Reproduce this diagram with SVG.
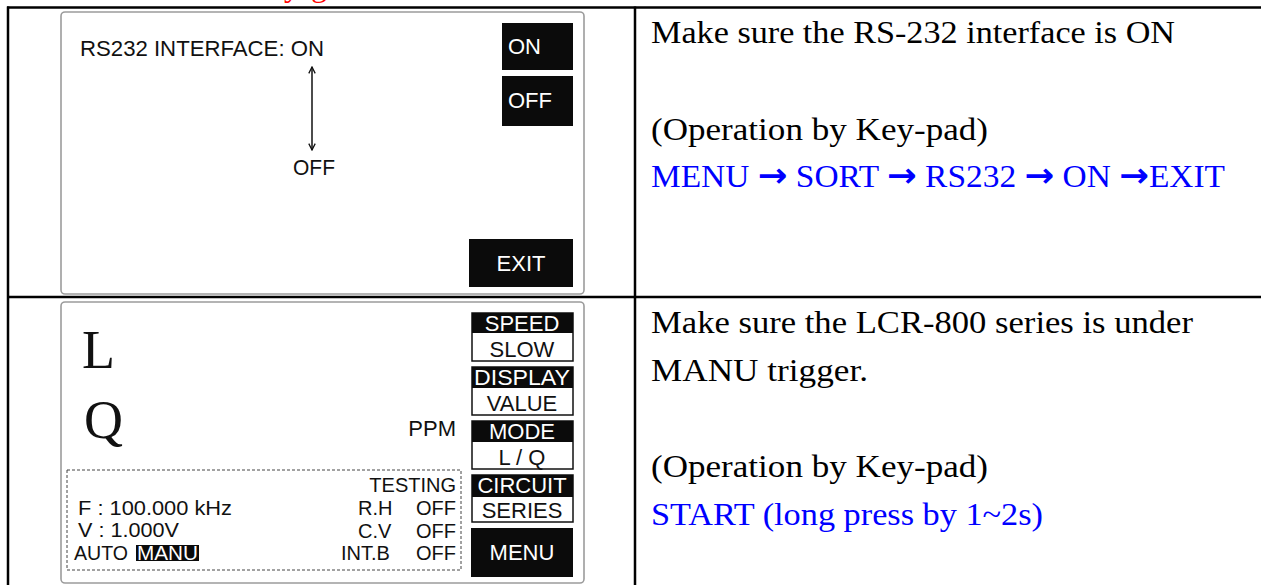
<svg xmlns="http://www.w3.org/2000/svg" width="1261" height="585" viewBox="0 0 1261 585">
<defs>
<style>
.grid{stroke:#000;stroke-width:2.5;fill:none}
.panel{fill:#fff;stroke:#9c9c9c;stroke-width:1.6}
.lcd{font-family:"Liberation Sans",Arial,sans-serif;font-size:22px;fill:#111}
.sm{font-size:20px}
.w{fill:#fff}
.blk{fill:#0b0b0b}
.box{fill:#fff;stroke:#111;stroke-width:1.5}
.big{font-family:"Liberation Serif","Times New Roman",serif;font-size:54px;fill:#111}
.doc{font-family:"Liberation Serif","Times New Roman",serif;font-size:32px;fill:#000}
.arr{font-family:"DejaVu Sans",sans-serif;font-weight:bold;font-size:34px}
.blue{fill:#0000ff}
.red{fill:#ff0000}
.c{text-anchor:middle}
.e{text-anchor:end}
.dash{fill:none;stroke:#444;stroke-width:1;stroke-dasharray:3 2}
</style>
<marker id="chev" viewBox="0 0 10 10" refX="9" refY="5" markerWidth="8" markerHeight="8" orient="auto-start-reverse" markerUnits="userSpaceOnUse">
<path d="M1,1 L9,5 L1,9" fill="none" stroke="#111" stroke-width="1.6"/>
</marker>
</defs>

<text class="doc red" x="284 300 311" y="-4">y g</text>

<g id="table">
<line class="grid" x1="7" y1="7.5" x2="1261" y2="7.5"/>
<line class="grid" x1="8" y1="6.5" x2="8" y2="585"/>
<line class="grid" x1="635" y1="6.5" x2="635" y2="585"/>
<line class="grid" x1="7" y1="297" x2="1261" y2="297"/>
</g>

<g id="panel-rs232">
<rect class="panel" x="61" y="12" width="523" height="282" rx="4"/>
<text class="lcd" x="80" y="56" font-size="23" textLength="244" lengthAdjust="spacingAndGlyphs">RS232 INTERFACE: ON</text>
<text class="lcd" x="293" y="175" font-size="23" textLength="42" lengthAdjust="spacingAndGlyphs">OFF</text>
<g id="btn-on"><rect class="blk" x="502" y="23" width="71" height="47"/><text class="lcd w" x="508" y="54" font-size="23">ON</text></g>
<g id="btn-off"><rect class="blk" x="502" y="76" width="71" height="50"/><text class="lcd w" x="508" y="108" font-size="23">OFF</text></g>
<g id="btn-exit"><rect class="blk" x="469" y="239" width="104" height="48"/><text class="lcd w c" x="521" y="271" font-size="23">EXIT</text></g>
</g>

<g id="connectors">
<line x1="312" y1="67" x2="312" y2="150" stroke="#111" stroke-width="1.5" marker-start="url(#chev)" marker-end="url(#chev)"/>
</g>

<g id="panel-lcr">
<rect class="panel" x="61" y="302" width="523" height="281" rx="4"/>
<text class="big" x="82" y="368">L</text>
<text class="big" x="84" y="438">Q</text>
<text class="lcd e" x="456" y="436" font-size="21">PPM</text>
<rect class="dash" x="67" y="470" width="394" height="100"/>
<text class="lcd sm e" x="456" y="492">TESTING</text>
<text class="lcd sm" x="358" y="515">R.H</text><text class="lcd sm e" x="456" y="515">OFF</text>
<text class="lcd sm" x="358" y="538">C.V</text><text class="lcd sm e" x="456" y="538">OFF</text>
<text class="lcd sm" x="341" y="560">INT.B</text><text class="lcd sm e" x="456" y="560">OFF</text>
<text class="lcd sm" x="78" y="515" textLength="154" lengthAdjust="spacingAndGlyphs">F : 100.000  kHz</text>
<text class="lcd sm" x="78" y="537" textLength="101" lengthAdjust="spacingAndGlyphs">V : 1.000V</text>
<text class="lcd sm" x="74" y="560" textLength="54" lengthAdjust="spacingAndGlyphs">AUTO</text>
<rect class="blk" x="136" y="545" width="63" height="16"/>
<text class="lcd sm w" x="137" y="560" textLength="61" lengthAdjust="spacingAndGlyphs">MANU</text>
<g id="btn-speed"><rect class="box" x="472" y="313" width="101" height="48"/><rect class="blk" x="472" y="313" width="101" height="20"/>
<text class="lcd w c" x="522" y="331">SPEED</text><text class="lcd c" x="522" y="357">SLOW</text></g>
<g id="btn-display"><rect class="box" x="472" y="367" width="101" height="48"/><rect class="blk" x="472" y="367" width="101" height="21"/>
<text class="lcd w c" x="522" y="385" textLength="96" lengthAdjust="spacingAndGlyphs">DISPLAY</text><text class="lcd c" x="522" y="411">VALUE</text></g>
<g id="btn-mode"><rect class="box" x="472" y="421" width="101" height="48"/><rect class="blk" x="472" y="421" width="101" height="21"/>
<text class="lcd w c" x="522" y="439">MODE</text><text class="lcd c" x="522" y="465">L / Q</text></g>
<g id="btn-circuit"><rect class="box" x="472" y="475" width="101" height="47"/><rect class="blk" x="472" y="475" width="101" height="22"/>
<text class="lcd w c" x="522" y="493">CIRCUIT</text><text class="lcd c" x="522" y="518">SERIES</text></g>
<g id="btn-menu"><rect class="blk" x="471" y="528" width="102" height="49"/><text class="lcd w c" x="522" y="560">MENU</text></g>
</g>

<g id="desc-rs232">
<text class="doc" x="651" y="43" textLength="524" lengthAdjust="spacingAndGlyphs">Make sure the RS-232 interface is ON</text>
<text class="doc" x="651" y="140" textLength="337" lengthAdjust="spacingAndGlyphs">(Operation by Key-pad)</text>
<text class="doc blue" x="651" y="187" textLength="574" lengthAdjust="spacingAndGlyphs">MENU <tspan class="arr">→</tspan> SORT <tspan class="arr">→</tspan> RS232 <tspan class="arr">→</tspan> ON <tspan class="arr">→</tspan>EXIT</text>
</g>

<g id="desc-lcr">
<text class="doc" x="651" y="333" textLength="542" lengthAdjust="spacingAndGlyphs">Make sure the LCR-800 series is under</text>
<text class="doc" x="651" y="381" textLength="217" lengthAdjust="spacingAndGlyphs">MANU trigger.</text>
<text class="doc" x="651" y="477" textLength="337" lengthAdjust="spacingAndGlyphs">(Operation by Key-pad)</text>
<text class="doc blue" x="651" y="525" textLength="392" lengthAdjust="spacingAndGlyphs">START (long press by 1~2s)</text>
</g>
</svg>
